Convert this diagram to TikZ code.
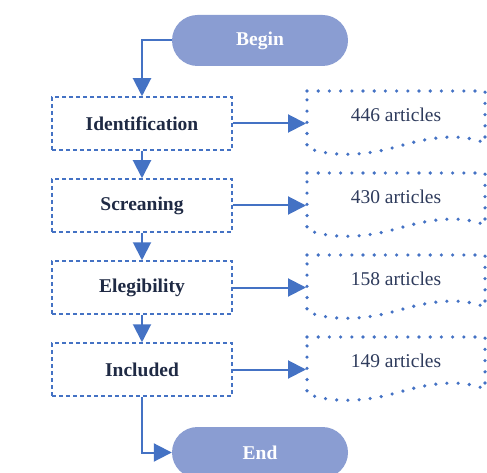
\documentclass[tikz,border=0pt]{standalone}
\usepackage{fontspec}
\setmainfont{Liberation Serif}
\usetikzlibrary{arrows.meta}
\definecolor{lineblue}{HTML}{4472C4}
\definecolor{pillfill}{HTML}{8A9DD2}
\definecolor{boxtext}{HTML}{1F2A44}
\definecolor{doctext}{HTML}{2E3B5C}
\tikzset{
  pill/.style={rounded corners=25.5pt, fill=pillfill, minimum width=176pt, minimum height=51pt, inner sep=0pt, text=white, font=\fontsize{19.5}{22}\selectfont\bfseries},
  stagebox/.style={draw=lineblue, line width=1.5pt, dash pattern=on 4pt off 3pt, minimum width=180pt, minimum height=53pt, inner sep=0pt, text=boxtext, font=\fontsize{19.5}{22}\selectfont\bfseries},
  doclabel/.style={inner sep=0pt, text=doctext, font=\fontsize{19.5}{22}\selectfont},
  docshape/.style={draw=lineblue, line width=3.6pt, line cap=round, dash pattern=on 0pt off 11.2pt},
  flow/.style={draw=lineblue, line width=2pt, -{Triangle[width=18pt,length=18pt]}}
}
\begin{document}
\begin{tikzpicture}[x=1pt,y=-1pt]
\useasboundingbox (0,0) rectangle (487,473);
\node[pill] (begin) at (260,40.5) {Begin};
\node[pill] (end) at (260,452.5) {End};
\foreach \n/\t/\y in {1/Identification/123.5, 2/Screaning/205.5, 3/Elegibility/287.5, 4/Included/369.5}{
  \node[stagebox] (b\n) at (142,\y) {\t};
}
\foreach \n/\t/\top in {1/446/91, 2/430/173, 3/158/255, 4/149/337}{
  \draw[docshape] (307,\top) -- (485,\top) -- (485,\top+52)
     .. controls (465,\top+44) and (440,\top+43) .. (396,\top+56)
     .. controls (360,\top+66) and (330,\top+65) .. (307,\top+57) -- cycle;
  \node[doclabel] (d\n) at (396,\top+24) {\t\ articles};
  \coordinate (dl\n) at (306,\top+32.5);
}
\draw[flow] (begin.west) -| (b1.north);
\draw[flow] (b1.south) -- (b2.north);
\draw[flow] (b2.south) -- (b3.north);
\draw[flow] (b3.south) -- (b4.north);
\draw[flow] (b4.south) |- (end.west);
\foreach \n in {1,2,3,4}{
  \draw[flow] (b\n.east) -- (dl\n);
}
\end{tikzpicture}
\end{document}
